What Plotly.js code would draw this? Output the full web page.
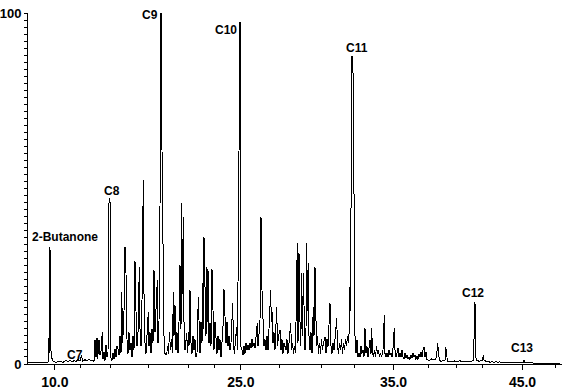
<!DOCTYPE html>
<html>
<head>
<meta charset="utf-8">
<script src="https://cdn.plot.ly/plotly-3.0.1.min.js"></script>
<style>html,body{margin:0;padding:0;background:#fff;}#chart{width:565px;height:390px;}
.scatterlayer path.js-line{shape-rendering:crispEdges;}</style>
</head>
<body>
<div id="chart"></div>
<script>
// Scan position (acquisition scan index) and relative abundance (%)
const scan = [28,35,45,48,49,49.5,50,50.6,51.5,53,56,60,63,66,68,70,72,74,76,78,80,81.5,82.5,85,87,89,91,93,94,
95,96,97,97.7,99,100,101,102.3,103,104,105,106,107,108,109,110,110.7,112,113,114,115,116,117,118.3,119,120,121,121.7,122.7,124,125,126,127,128,129,130,131,132,133,134,
135,136,137,138,139.3,140,141,142,143.3,144,145,146,147,148.3,149,150,151,152,153,154,155,156,157.3,158,159,160,161,162,163,164,165,166.7,167.5,168.5,169.5,170.5,171.5,172.5,173.3,174,
175,176,177,178,179,180,181,181.7,182.5,183.3,184,185,186.7,187.5,188.3,189,190,191,192,193,194,195,196,197,198.3,199,200,201,202,202.7,203.3,204,205,206,206.7,207.5,208,209,210,211,212,213,214,
215,216,217,218,219,220,221,221.7,222.5,223.3,224,225,226,227,228,229,230,231,232.7,233.5,234.5,235.5,236.7,237.5,238.3,239,240,240.7,241.7,243,244,245,246,247,248,249,250,251,252,253,254,
255,256,257.3,258,259,260,260.7,261.5,262,263.3,264,265,266,267,268,269,270.7,271.3,272,273,274,275,276.7,277.5,278.5,280,281,282,283,284,285,286,287,288,289,290.7,291.5,292.5,293.5,294.5,
295.5,296.5,297.3,298,299,300,300.8,301.7,302.5,303.3,304.2,305,306,306.7,307.5,308.3,309,310,311,312,313.3,314,315,315.8,316.5,317.5,318.5,319.5,320.5,321.5,322.5,323.5,325,326,327,328,329.3,330,
331,332,333,334,335,336.7,337.5,338.5,339.5,340.5,341.5,342.5,343.5,344.5,345.5,346.5,347.5,348.5,349.3,350,350.7,351.5,352.5,353.3,354.3,355,356,357,358,359,360,361,362,363,364,365,366,367,368,369,
370,371,371.7,372.5,373.5,374.5,375.5,376.5,377.5,378.5,379.5,380.5,381.5,383,384.3,385,386,387,388,389,390,391,392,393,394.3,395,396,397,398,399,400,401,402,403,404,405,406,407,408,409,
410,411,412,413,414,415,416,417,418,419,420,421,422,423.3,424.3,425,426,427,428,429,430,431,433,435,436.5,437.7,438.5,439.5,441,443,445,445.7,446.5,447.5,450,452,454,456,458,460,462,464,466,468,
470,472,473.5,474.3,475,475.7,477,479,481,482.5,483.3,484,486,488,490,492,494,496,498,500,502,504,506,508,510,513,516,519,522,523.5,524,524.5,527,530,535,540,545,550,555,560];
const abundance = [0.3,0.3,0.3,0.4,7.3,3,33.4,5,2,0.8,0.5,0.8,0.5,1.0,0.6,1.2,0.5,1.0,0.7,1.3,0.8,2.6,0.8,1.2,0.9,1.5,0.8,1.2,0.6,
6.8,2,7.4,1.5,6.8,2.5,3.6,9.2,1.5,3.4,1,5.4,2,3,45.8,47.3,2,1,3,1.5,4.2,2,5,4,2.5,8,3,20.6,6,15,33.4,25.8,7,3,9,4,6,2,8,4,
29.4,15,5,9,27.7,10,5,18,52.4,20,6,3,8,14.9,5,9,3,10,6,26.8,9,14,23.9,6,12,44.4,100,61,20,8,3,2.6,5,3,9,4,7,3,20.6,8,
16.8,4,9,3,12,28.2,10,46,20,42,12,4,8.8,3,9,5,21,6,3,8,4,7,2,3,19.2,8,3,12,6,23,10,36.2,20,8,27.7,12,27,6,11.7,5,27,9,4,
12,5,3,8,4,7,2,5,8,12,21.3,10,6,12,5,8,4,6,17.5,5,3,7,10.6,4,38.7,71.5,97.4,5,4.5,2.5,5,3,6,4,5.5,4,6,4.5,7,5,6,
4.5,7,11.6,5,8,12,41.8,41,21,8.3,5,7,4,8,4,10,21.1,12,15,6,9,4,16.3,5,8,9.7,4,7,3,6,5,4,7,3,6,11.7,4,6,3,5,
3,16,34.4,6,31.6,12,5,25.8,8,25.9,10,4,10,34.6,15,28.7,8,4,9,3,16.3,8,27.7,10,5,8,3,6,3,7,4,6,7.8,3,7,5,15.4,17.4,
5,3,6,4,7,13.1,5,3,6,4,7,3,6,4,7,5,8,6,10,22,15,87.7,87.7,80,35.3,8,3,6.8,2,3,2,5,3,4,2,10.2,3,5,2,4,
6.8,3,10.2,3,2,4,2,5,3,4,2,3,2,4,14,3,2,3,2,4,2.5,3,2,4.5,10.3,4,2,3,4.5,2,3,2,4,2,1.5,3,1.8,2.5,1.5,2,
1.3,2.5,1.7,3,2,2.6,1.3,2.2,1.3,2.8,2,3.5,2,4.6,4.8,2,3.5,1.2,1,1,1.2,1.5,1.2,1.3,2,5.9,3,1,0.8,0.9,1,4.9,3,0.7,0.8,0.6,0.9,0.7,0.8,0.9,0.7,0.8,0.6,0.8,
0.7,0.8,1.0,10.6,17.8,2,1,0.8,0.8,1.0,2.6,1.2,0.7,0.8,0.5,0.7,0.5,0.7,0.5,0.6,0.4,0.5,0.4,0.5,0.3,0.4,0.3,0.4,0.3,0.5,1.0,0.4,0.3,0.3,0.2,0.2,0.2,0.2,0.2,0.2];

// Retention-time tick labels (minutes) and their scan positions
const timeTickScans = [54.8, 240.8, 393.5, 522.5];
const timeTickLabels = ["10.0", "25.0", "35.0", "45.0"];
const minorTickScans = [80, 110, 148, 188, 214, 279, 321, 354, 428, 456, 482, 555];

// Peak labels
const peakNames = ["2-Butanone", "C7", "C8", "C9", "C10", "C11", "C12", "C13"];
const labelScan = [65, 74.5, 112, 149.5, 226, 357, 473, 522];
const labelLevel = [36.2, 2.6, 49.3, 99.4, 95.2, 90, 20.2, 4.6];

const FONT = "Liberation Sans, Arial, Helvetica, sans-serif";

const trace = {
  x: scan, y: abundance, type: "scatter", mode: "lines",
  line: {color: "#000", width: 1}, hoverinfo: "skip", showlegend: false
};

const annotations = peakNames.map((t, i) => ({
  x: labelScan[i], y: labelLevel[i], xref: "x", yref: "y",
  text: "<b>" + t + "</b>", showarrow: false,
  xanchor: "center", yanchor: "middle",
  font: {family: FONT, size: 12, color: "#000"}
}));

const layout = {
  width: 565, height: 390,
  margin: {l: 28, r: 3, t: 13, b: 26, pad: 0},
  paper_bgcolor: "#fff", plot_bgcolor: "#fff",
  font: {family: FONT, color: "#000"},
  xaxis: {
    range: [28, 562], showgrid: false, zeroline: false,
    showline: true, linecolor: "#000", linewidth: 1,
    tickmode: "array", tickvals: timeTickScans, ticktext: timeTickLabels,
    ticks: "outside", ticklen: 5, tickwidth: 1, tickcolor: "#000",
    tickfont: {family: FONT, size: 14, color: "#000", weight: "bold"},
    minor: {tickmode: "array", tickvals: minorTickScans, ticks: "outside", ticklen: 3, tickcolor: "#000", showgrid: false}
  },
  yaxis: {
    range: [0, 100], showgrid: false, zeroline: false,
    showline: true, linecolor: "#000", linewidth: 1,
    tickmode: "array", tickvals: [0, 100], ticktext: ["0", "100"],
    ticks: "outside", ticklen: 3, tickwidth: 1, tickcolor: "#000",
    tickfont: {family: FONT, size: 13, color: "#000", weight: "bold"},
    minor: {dtick: 2, ticks: "outside", ticklen: 3, tickcolor: "#000", showgrid: false}
  },
  annotations: annotations
};

Plotly.newPlot("chart", [trace], layout, {staticPlot: true, displayModeBar: false});
</script>
</body>
</html>
